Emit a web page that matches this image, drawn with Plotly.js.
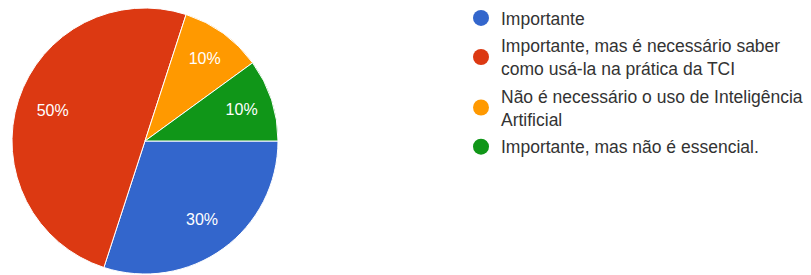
<!DOCTYPE html>
<html>
<head>
<meta charset="utf-8">
<script src="https://cdn.plot.ly/plotly-3.0.1.min.js"></script>
<style>html,body{margin:0;padding:0;background:#fff;}#chart{width:811px;height:275px;}</style>
</head>
<body>
<div id="chart"></div>
<script>
const categories = [
  "Importante",
  "Importante, mas é necessário saber<br>como usá-la na prática da TCI",
  "Não é necessário o uso de Inteligência<br>Artificial",
  "Importante, mas não é essencial."
];
const values = [30, 50, 10, 10];
const colors = ["#3366cc", "#dc3912", "#ff9900", "#109618"];

const pieDomain = {x: [12/811, 278/811], y: [0, 266/274]};

const traces = [{
  type: "pie",
  labels: categories,
  values: values,
  sort: false,
  direction: "clockwise",
  rotation: 90,
  marker: {colors: colors, line: {color: "#ffffff", width: 1}},
  textinfo: "none",
  hoverinfo: "label+percent",
  showlegend: false,
  domain: pieDomain
}, {
  // transparent ring carrying the percentage labels at mid-radius
  type: "pie",
  labels: categories,
  values: values,
  sort: false,
  direction: "clockwise",
  rotation: 90,
  hole: 0.46,
  marker: {colors: categories.map(() => "rgba(0,0,0,0)"), line: {width: 0}},
  texttemplate: "%{percent:.0%}",
  textposition: "inside",
  insidetextorientation: "horizontal",
  textfont: {family: "Liberation Sans, Arial, sans-serif", size: 16, color: "#ffffff"},
  hoverinfo: "skip",
  showlegend: false,
  domain: pieDomain
}];

categories.forEach((c, i) => {
  traces.push({
    type: "scatter",
    mode: "markers",
    x: [null], y: [null],
    name: c,
    legendgroup: "g" + i,
    marker: {color: colors[i], size: 17, symbol: "circle"},
    showlegend: true,
    hoverinfo: "skip"
  });
});

const layout = {
  width: 811, height: 275,
  margin: {l: 0, r: 0, t: 0, b: 1},
  paper_bgcolor: "#ffffff",
  plot_bgcolor: "rgba(0,0,0,0)",
  xaxis: {visible: false, domain: [0.5, 0.51]},
  yaxis: {visible: false},
  showlegend: true,
  legend: {
    x: 461/811, y: 1, xanchor: "left", yanchor: "top",
    font: {family: "Liberation Sans, Arial, sans-serif", size: 17.5, color: "#333333"},
    traceorder: "grouped",
    tracegroupgap: 2,
    itemclick: false, itemdoubleclick: false,
    bgcolor: "rgba(0,0,0,0)"
  }
};

Plotly.newPlot("chart", traces, layout, {displayModeBar: false, staticPlot: true});
</script>
</body>
</html>
